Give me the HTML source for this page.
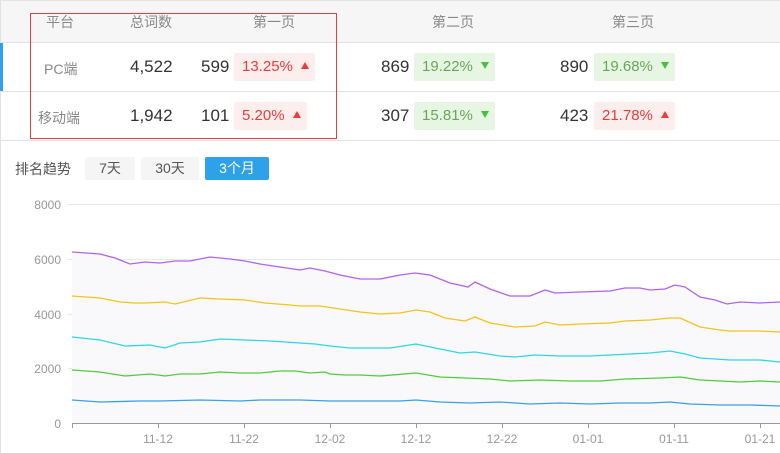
<!DOCTYPE html>
<html><head><meta charset="utf-8"><style>
body{margin:0;width:780px;height:453px;position:relative;overflow:hidden;background:#fff;font-family:"Liberation Sans","Noto Sans CJK SC",sans-serif;}
.a{position:absolute;white-space:nowrap;}
.h{color:#888;font-size:14px;top:12px;}
.n{color:#333;font-size:17px;}
.lab{color:#888;font-size:14px;}
.bd{position:absolute;height:28px;border-radius:2px;font-size:15px;line-height:28px;padding-left:8px;box-sizing:border-box;}
.up{background:#fdeeee;color:#f03a3a;}
.dn{background:#e6f6e3;color:#6aa55a;}
.tri{display:inline-block;width:0;height:0;border-left:4.5px solid transparent;border-right:4.5px solid transparent;margin-left:8px;vertical-align:2px;}
.up .tri{border-bottom:7px solid #f03a3a;}
.dn .tri{border-top:7px solid #45c040;}
.btn{position:absolute;top:157px;height:23px;line-height:23px;text-align:center;font-size:14px;border-radius:2px;background:#f5f5f5;color:#555;}
</style></head><body>
<div class="a" style="left:0;top:0;width:780px;height:42px;background:#f6f6f6;border-top:1px solid #e4e4e4;box-sizing:border-box"></div>
<div class="a" style="left:0;top:42px;width:780px;height:1px;background:#e2e2e2"></div>
<div class="a" style="left:0;top:91px;width:780px;height:1px;background:#e2e2e2"></div>
<div class="a" style="left:0;top:140px;width:780px;height:1px;background:#e2e2e2"></div>
<div class="a" style="left:0;top:0;width:1px;height:453px;background:#e2e2e2"></div>
<div class="a" style="left:0;top:43px;width:3px;height:48px;background:#2ea2e8"></div>
<div class="a h" style="left:46px">平台</div>
<div class="a h" style="left:130px">总词数</div>
<div class="a h" style="left:253px">第一页</div>
<div class="a h" style="left:432px">第二页</div>
<div class="a h" style="left:612px">第三页</div>
<div class="a lab" style="left:44px;top:59px">PC端</div>
<div class="a lab" style="left:38px;top:108px">移动端</div>
<div class="a n" style="left:130px;top:57px">4,522</div>
<div class="a n" style="left:130px;top:106px">1,942</div>
<div class="a n" style="left:201px;top:57px">599</div>
<div class="a n" style="left:201px;top:106px">101</div>
<div class="bd up" style="left:234px;top:53px;width:81px">13.25%<span class="tri"></span></div>
<div class="bd up" style="left:234px;top:102px;width:73px">5.20%<span class="tri"></span></div>
<div class="a n" style="left:381px;top:57px">869</div>
<div class="a n" style="left:381px;top:106px">307</div>
<div class="bd dn" style="left:414px;top:53px;width:81px">19.22%<span class="tri"></span></div>
<div class="bd dn" style="left:414px;top:102px;width:81px">15.81%<span class="tri"></span></div>
<div class="a n" style="left:560px;top:57px">890</div>
<div class="a n" style="left:560px;top:106px">423</div>
<div class="bd dn" style="left:594px;top:53px;width:81px">19.68%<span class="tri"></span></div>
<div class="bd up" style="left:594px;top:102px;width:81px">21.78%<span class="tri"></span></div>
<div class="a" style="left:30px;top:13px;width:307px;height:126px;border:1px solid #f03a3a;box-sizing:border-box"></div>
<div class="a" style="left:15px;top:159px;font-size:14px;color:#555">排名趋势</div>
<div class="btn" style="left:85px;width:50px">7天</div>
<div class="btn" style="left:141px;width:58px">30天</div>
<div class="btn" style="left:205px;width:64px;background:#2ea2e8;color:#fff">3个月</div>
<svg class="a" style="left:0;top:0" width="780" height="453">
<g stroke="#e8e8e8" stroke-width="1"><line x1="68" y1="204.5" x2="780" y2="204.5"/><line x1="68" y1="259.5" x2="780" y2="259.5"/><line x1="68" y1="314.5" x2="780" y2="314.5"/><line x1="68" y1="368.5" x2="780" y2="368.5"/></g>
<polygon fill="#f9f9fb" points="72,423 72,252 100,254 115,258 130,264 145,262 160,263 175,261 190,261 210,257 230,259 245,261 260,264 280,267 300,270 310,268 325,271 340,275 360,279 380,279 400,275 415,273 430,275 450,283 468,287 475,282 490,289 510,296 530,296 545,290 555,293 580,292 610,291 625,288 640,288 650,290 665,289 675,285 685,287 700,297 715,300 727,304 740,302 760,303 780,302 780,423"/>
<g fill="none" stroke-width="1.3">
<polyline stroke="#b462ee" points="72,252 100,254 115,258 130,264 145,262 160,263 175,261 190,261 210,257 230,259 245,261 260,264 280,267 300,270 310,268 325,271 340,275 360,279 380,279 400,275 415,273 430,275 450,283 468,287 475,282 490,289 510,296 530,296 545,290 555,293 580,292 610,291 625,288 640,288 650,290 665,289 675,285 685,287 700,297 715,300 727,304 740,302 760,303 780,302"/>
<polyline stroke="#f7c21b" points="72,296 100,298 120,302 135,303 145,303 165,302 175,304 200,298 220,299 245,300 265,303 290,305 300,306 320,306 340,309 360,312 380,314 400,313 416,310 430,312 445,318 465,321 475,317 490,323 515,327 535,326 545,322 560,325 580,324 610,323 625,321 650,320 670,318 680,318 700,327 720,330 730,331 760,331 780,332"/>
<polyline stroke="#2fd6e6" points="72,337 100,340 125,346 150,345 165,348 180,343 200,342 220,339 245,340 270,341 300,343 315,344 330,346 350,348 370,348 390,348 416,344 440,349 460,353 475,352 500,356 515,357 535,355 560,356 590,356 630,354 650,353 670,351 685,354 700,358 730,360 760,360 780,362"/>
<polyline stroke="#4fcd3c" points="72,370 100,372 125,376 150,374 165,376 180,374 200,374 220,372 240,373 260,373 280,371 295,371 310,373 325,372 330,374 345,375 360,375 380,376 416,373 440,377 465,378 490,379 510,381 540,380 570,381 600,381 625,379 660,378 680,377 700,380 720,381 740,382 760,381 780,382"/>
<polyline stroke="#3ba0e6" points="72,400 100,402 140,401 160,401 200,400 240,401 260,400 300,400 330,401 360,401 400,401 416,400 440,402 470,403 500,402 530,404 560,403 590,404 620,403 650,403 670,402 690,404 720,405 750,405 780,406"/>
</g>
<line x1="72" y1="423.5" x2="780" y2="423.5" stroke="#999"/>
<g stroke="#999"><line x1="72.5" y1="423" x2="72.5" y2="428"/><line x1="158.5" y1="423" x2="158.5" y2="428"/><line x1="244.5" y1="423" x2="244.5" y2="428"/><line x1="330.5" y1="423" x2="330.5" y2="428"/><line x1="416.5" y1="423" x2="416.5" y2="428"/><line x1="502.5" y1="423" x2="502.5" y2="428"/><line x1="588.5" y1="423" x2="588.5" y2="428"/><line x1="674.5" y1="423" x2="674.5" y2="428"/><line x1="760.5" y1="423" x2="760.5" y2="428"/></g>
<g font-family="Liberation Sans, sans-serif" font-size="12" fill="#999" text-anchor="end"><text x="61" y="209">8000</text><text x="61" y="264">6000</text><text x="61" y="319">4000</text><text x="61" y="373">2000</text><text x="61" y="428">0</text></g>
<g font-family="Liberation Sans, sans-serif" font-size="12" fill="#999" text-anchor="middle"><text x="158" y="443">11-12</text><text x="244" y="443">11-22</text><text x="330" y="443">12-02</text><text x="416" y="443">12-12</text><text x="502" y="443">12-22</text><text x="588" y="443">01-01</text><text x="674" y="443">01-11</text><text x="760" y="443">01-21</text></g>
</svg>
</body></html>
